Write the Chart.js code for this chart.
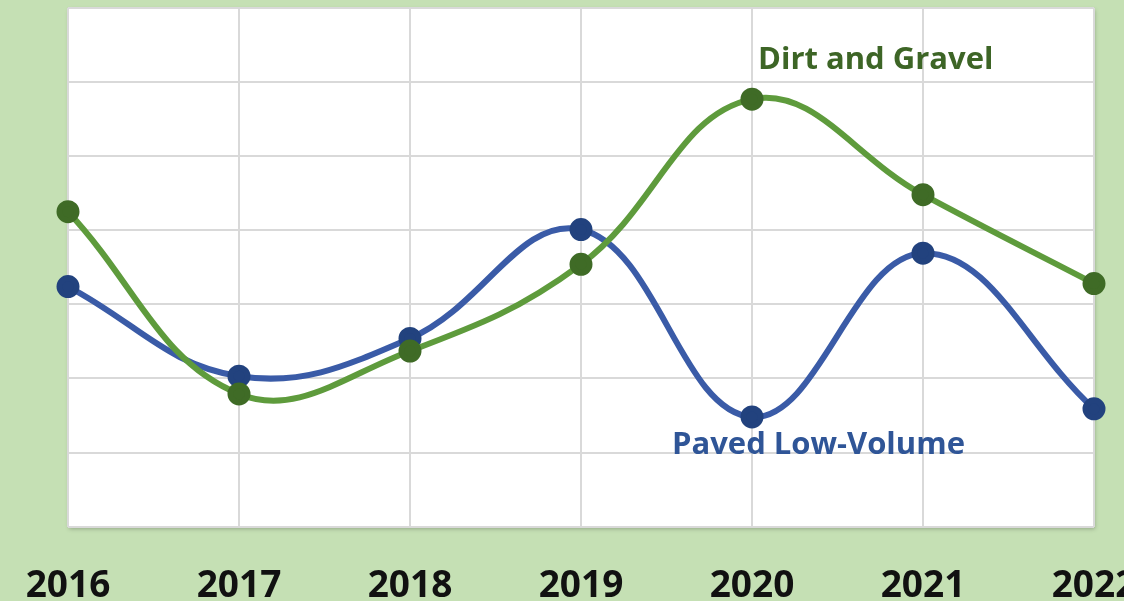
<!DOCTYPE html>
<html>
<head>
<meta charset="utf-8">
<script src="https://cdn.jsdelivr.net/npm/chart.js@4"></script>
<style>
    html, body { margin: 0; padding: 0; background: #c5e0b4; overflow: hidden; }
    #wrap { position: relative; width: 1124px; height: 601px; }
</style>
</head>
<body>
<div id="wrap"><canvas id="chart" width="1124" height="601"></canvas></div>
<script>
const years = ['2016', '2017', '2018', '2019', '2020', '2021', '2022'];
const dirtGravel = [4.25, 1.79, 2.37, 3.54, 5.77, 4.48, 3.28];
const pavedLowVolume = [3.24, 2.03, 2.54, 4.01, 1.48, 3.69, 1.59];

// white plot area with a soft drop shadow
const plotBackground = {
    id: 'plotBackground',
    beforeDraw(chart) {
        const { ctx, chartArea: a } = chart;
        ctx.save();
        ctx.shadowColor = 'rgba(0,0,0,0.25)';
        ctx.shadowBlur = 4;
        ctx.shadowOffsetX = 1;
        ctx.shadowOffsetY = 2;
        ctx.fillStyle = '#ffffff';
        ctx.fillRect(a.left, a.top, a.right - a.left, a.bottom - a.top);
        ctx.restore();
    }
};

// series names written next to the lines
const seriesLabels = {
    id: 'seriesLabels',
    afterDatasetsDraw(chart) {
        const { ctx, scales: { x, y } } = chart;
        ctx.save();
        ctx.font = 'bold 31px "Open Sans", sans-serif';
        ctx.textBaseline = 'middle';
        ctx.textAlign = 'left';
        ctx.fillStyle = '#3d6526';
        ctx.fillText('Dirt and Gravel', x.getPixelForValue(4) + 6, y.getPixelForValue(6.3));
        ctx.fillStyle = '#2f5597';
        ctx.fillText('Paved Low-Volume', x.getPixelForValue(4) - 80, y.getPixelForValue(1.1));
        ctx.restore();
    }
};

new Chart(document.getElementById('chart'), {
    type: 'line',
    data: {
        labels: years,
        datasets: [
            {
                label: 'Dirt and Gravel',
                data: dirtGravel,
                borderColor: '#5e9b3c',
                borderWidth: 6,
                pointBackgroundColor: '#3f6b26',
                pointBorderColor: '#3f6b26',
                pointRadius: 8.5,
                tension: 0.4,
                clip: false
            },
            {
                label: 'Paved Low-Volume',
                data: pavedLowVolume,
                borderColor: '#3a5ba7',
                borderWidth: 6,
                pointBackgroundColor: '#22427e',
                pointBorderColor: '#22427e',
                pointRadius: 8.5,
                tension: 0.4,
                clip: false
            }
        ]
    },
    options: {
        responsive: false,
        animation: false,
        layout: { autoPadding: false, padding: { left: 68, right: 30, top: 8, bottom: -46 } },
        plugins: {
            legend: { display: false },
            tooltip: { enabled: false }
        },
        scales: {
            x: {
                offset: false,
                grid: { color: '#d9d9d9', lineWidth: 2, drawTicks: false },
                border: { display: false },
                ticks: {
                    color: '#111111',
                    font: { family: '"Open Sans", sans-serif', weight: 'bold', size: 37 },
                    padding: 38,
                    maxRotation: 0,
                    autoSkip: false
                },
                afterFit(scale) {
                    scale.paddingLeft = 0;
                    scale.paddingRight = 0;
                }
            },
            y: {
                min: 0,
                max: 7,
                ticks: { display: false, stepSize: 1 },
                grid: { color: '#d9d9d9', lineWidth: 2, drawTicks: false },
                border: { display: false }
            }
        }
    },
    plugins: [plotBackground, seriesLabels]
});
</script>
</body>
</html>
